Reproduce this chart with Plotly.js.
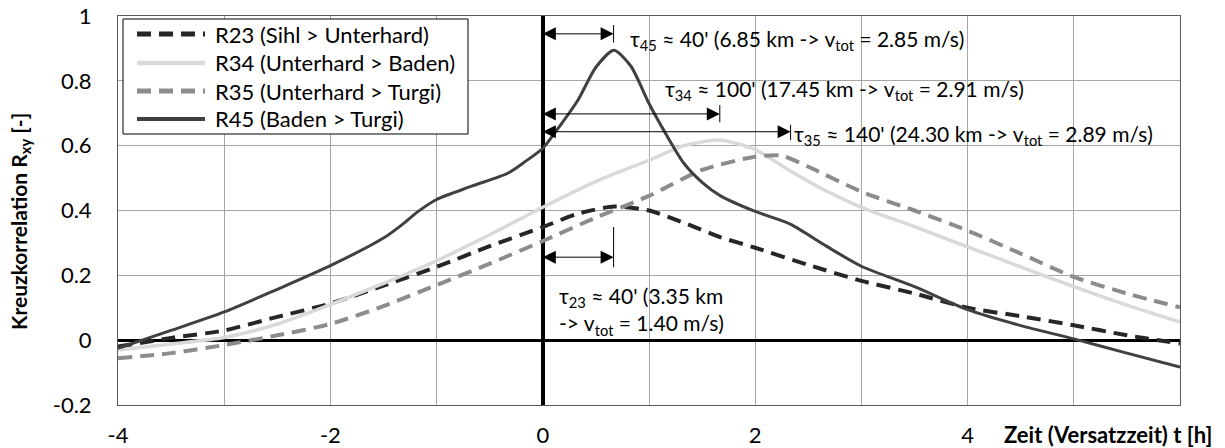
<!DOCTYPE html>
<html>
<head>
<meta charset="utf-8">
<script src="https://cdn.plot.ly/plotly-3.0.1.min.js"></script>
<style>
  html, body { margin: 0; padding: 0; background: #fff; }
  #chart { width: 1225px; height: 448px; }
</style>
</head>
<body>
<div id="chart"></div>
<script>
// ---------------- data ----------------
const seriesNames = ["R23 (Sihl > Unterhard)", "R34 (Unterhard > Baden)", "R35 (Unterhard > Turgi)", "R45 (Baden > Turgi)"];

const r23X = [-4, -3.5, -3, -2.5, -2, -1.5, -1, -0.5, 0, 0.33, 0.67, 1, 1.33, 1.67, 2, 2.5, 3, 3.5, 4, 4.5, 5, 5.5, 6];
const r23Y = [-0.02, 0.007, 0.03, 0.072, 0.113, 0.168, 0.226, 0.29, 0.349, 0.39, 0.412, 0.40, 0.362, 0.318, 0.285, 0.232, 0.183, 0.144, 0.100, 0.074, 0.046, 0.015, -0.01];

const r34X = [-4, -3.5, -3, -2.5, -2, -1.5, -1, -0.5, 0, 0.5, 1, 1.33, 1.67, 2, 2.33, 2.67, 3, 3.5, 4, 4.5, 5, 5.5, 6];
const r34Y = [-0.03, -0.012, 0.008, 0.05, 0.11, 0.175, 0.245, 0.325, 0.41, 0.49, 0.555, 0.60, 0.617, 0.588, 0.522, 0.46, 0.41, 0.35, 0.288, 0.226, 0.165, 0.108, 0.056];

const r35X = [-4, -3.5, -3, -2.5, -2, -1.5, -1, -0.5, 0, 0.5, 1, 1.5, 2, 2.25, 2.5, 3, 3.5, 4, 4.5, 5, 5.5, 6];
const r35Y = [-0.056, -0.04, -0.015, 0.015, 0.05, 0.105, 0.17, 0.236, 0.306, 0.378, 0.445, 0.525, 0.566, 0.569, 0.535, 0.458, 0.40, 0.338, 0.267, 0.195, 0.144, 0.101];

const r45X = [-4, -3.5, -3, -2.5, -2, -1.5, -1.33, -1.17, -1, -0.67, -0.33, -0.17, 0, 0.17, 0.33, 0.5, 0.67, 0.83, 1, 1.17, 1.33, 1.5, 1.67, 2, 2.33, 2.67, 3, 3.5, 4, 4.5, 5, 5.5, 6];
const r45Y = [-0.025, 0.03, 0.087, 0.157, 0.23, 0.315, 0.355, 0.398, 0.434, 0.475, 0.515, 0.55, 0.592, 0.665, 0.74, 0.842, 0.894, 0.845, 0.73, 0.63, 0.545, 0.487, 0.446, 0.397, 0.358, 0.29, 0.228, 0.165, 0.094, 0.045, 0.004, -0.04, -0.083];

const xTickVals = [-4, -2, 0, 2, 4];
const xTickLabels = ["-4", "-2", "0", "2", "4"];
const xMinorGrid = [-3, -1, 1, 3, 5];
const yTickVals = [-0.2, 0, 0.2, 0.4, 0.6, 0.8, 1];
const yTickLabels = ["-0.2", "0", "0.2", "0.4", "0.6", "0.8", "1"];

const tauMinutes = [40, 100, 140, 40];
const tauLabels = [
  "τ<sub>45</sub> ≈ 40' (6.85 km -> v<sub>tot</sub> = 2.85 m/s)",
  "τ<sub>34</sub> ≈ 100' (17.45 km -> v<sub>tot</sub> = 2.91 m/s)",
  "τ<sub>35</sub> ≈ 140' (24.30 km -> v<sub>tot</sub> = 2.89 m/s)",
  "τ<sub>23</sub> ≈ 40' (3.35 km<br>-> v<sub>tot</sub> = 1.40 m/s)"
];
const xAxisTitle = "Zeit (Versatzzeit) t [h]";
const yAxisTitle = "Kreuzkorrelation R<sub>xy</sub> [-]";

// ---------------- styles ----------------
const FONT = "Lato, 'Open Sans', sans-serif";
const styles = [
  { color: "#262626", width: 4, dash: "14px,8px" },
  { color: "#d9d9d9", width: 3.5, dash: "solid" },
  { color: "#8c8c8c", width: 4, dash: "14px,8px" },
  { color: "#404040", width: 3, dash: "solid" }
];
const xs = [r23X, r34X, r35X, r45X];
const ys = [r23Y, r34Y, r35Y, r45Y];

const traces = seriesNames.map((n, i) => ({
  type: "scatter", mode: "lines", name: n, x: xs[i], y: ys[i],
  line: { color: styles[i].color, width: styles[i].width, dash: styles[i].dash, shape: "spline", smoothing: 0.7 },
  showlegend: false, hoverinfo: "skip"
}));

// pixel helpers for paper coordinates (plot area 118..1180 x 16..405)
const PL = 118, PR = 1180, PT = 16, PB = 405;
const fx = px => (px - PL) / (PR - PL);
const fy = py => (PB - py) / (PB - PT);

const shapes = [];
const annotations = [];

// custom legend
shapes.push({ type: "rect", xref: "paper", yref: "paper", x0: fx(123), x1: fx(468), y0: fy(134), y1: fy(19),
  line: { color: "#000", width: 1 }, fillcolor: "#fff", layer: "above" });
const legRows = [34, 63, 91, 119];
seriesNames.forEach((n, i) => {
  shapes.push({ type: "line", xref: "paper", yref: "paper", x0: fx(137), x1: fx(205), y0: fy(legRows[i]), y1: fy(legRows[i]),
    line: { color: styles[i].color, width: styles[i].width + 1, dash: styles[i].dash }, layer: "above" });
  annotations.push({ xref: "paper", yref: "paper", x: fx(213), y: fy(legRows[i]), xanchor: "left", yanchor: "middle",
    text: n, showarrow: false, font: { family: FONT, size: 22, color: "#000" } });
});

// tau arrows (line + two filled heads + end tick)
const arrowY = [0.945, 0.698, 0.643, 0.256];
const tickY = [[0.918, 0.972], [0.672, 0.725], [0.617, 0.664], [0.225, 0.349]];
const textX = [0.80, 1.13, 2.35, 0.13];
const textY = [0.925, 0.772, 0.633, 0.09];
tauMinutes.forEach((m, i) => {
  const h = m / 60;
  shapes.push({ type: "line", xref: "x", yref: "y", x0: 0, x1: h - 0.05, y0: arrowY[i], y1: arrowY[i], line: { color: "#000", width: 1 } });
  shapes.push({ type: "path", xref: "x", yref: "y", xsizemode: "pixel", ysizemode: "pixel", xanchor: h, yanchor: arrowY[i],
    path: "M0,0L-13,6.5L-13,-6.5Z", fillcolor: "#000", line: { width: 0 } });
  shapes.push({ type: "path", xref: "x", yref: "y", xsizemode: "pixel", ysizemode: "pixel", xanchor: 0, yanchor: arrowY[i],
    path: "M0,0L13,6.5L13,-6.5Z", fillcolor: "#000", line: { width: 0 } });
  shapes.push({ type: "line", xref: "x", yref: "y", x0: h, x1: h, y0: tickY[i][0], y1: tickY[i][1], line: { color: "#000", width: 1 } });
  annotations.push({ xref: "x", yref: "y", x: textX[i], y: textY[i], xanchor: "left", yanchor: "middle", align: "left",
    text: tauLabels[i], showarrow: false, font: { family: FONT, size: 21, color: "#000" } });
});

// axis titles (placed like the original)
annotations.push({ xref: "paper", yref: "paper", x: fx(1214), y: fy(434), xanchor: "right", yanchor: "middle",
  text: "<b>" + xAxisTitle + "</b>", showarrow: false, font: { family: FONT, size: 22, color: "#000" } });
annotations.push({ xref: "paper", yref: "paper", x: fx(20), y: fy(222), xanchor: "center", yanchor: "middle", textangle: -90,
  text: "<b>" + yAxisTitle + "</b>", showarrow: false, font: { family: FONT, size: 21, color: "#000" } });

const layout = {
  width: 1225, height: 448,
  margin: { l: PL, r: 1225 - PR, t: PT, b: 448 - PB, pad: 0 },
  paper_bgcolor: "#fff", plot_bgcolor: "#fff",
  font: { family: FONT, size: 22, color: "#000" },
  xaxis: {
    range: [-4, 6], tickmode: "array", tickvals: xTickVals, ticktext: xTickLabels,
    showgrid: true, gridcolor: "#a6a6a6", gridwidth: 1,
    minor: { tickmode: "array", tickvals: xMinorGrid, showgrid: true, gridcolor: "#a6a6a6", gridwidth: 1, ticks: "" },
    zeroline: true, zerolinecolor: "#000", zerolinewidth: 3.5,
    showline: true, mirror: true, linecolor: "#595959", linewidth: 1,
    ticks: "", ticklabelstandoff: 11, tickfont: { family: FONT, size: 22, color: "#000" },
    automargin: false, fixedrange: true
  },
  yaxis: {
    range: [-0.2, 1], tickmode: "array", tickvals: yTickVals, ticktext: yTickLabels,
    showgrid: true, gridcolor: "#a6a6a6", gridwidth: 1,
    zeroline: true, zerolinecolor: "#000", zerolinewidth: 3,
    showline: true, mirror: true, linecolor: "#595959", linewidth: 1,
    ticks: "", ticklabelstandoff: 21, tickfont: { family: FONT, size: 22, color: "#000" },
    automargin: false, fixedrange: true
  },
  shapes: shapes,
  annotations: annotations,
  showlegend: false
};

Plotly.newPlot("chart", traces, layout, { displayModeBar: false, staticPlot: true });
</script>
</body>
</html>
